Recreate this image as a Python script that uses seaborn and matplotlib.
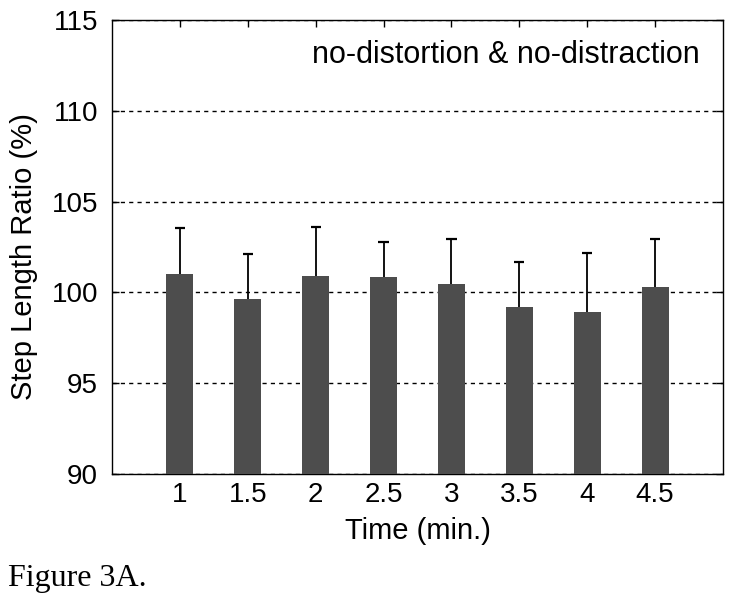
import matplotlib
matplotlib.use("Agg")
import matplotlib.pyplot as plt
import seaborn as sns
import numpy as np
import pandas as pd

# Data
time_labels = ["1", "1.5", "2", "2.5", "3", "3.5", "4", "4.5"]
ratio_mean = [101.0, 99.65, 100.92, 100.83, 100.44, 99.18, 98.94, 100.30]
ratio_sd = [2.53, 2.45, 2.68, 1.96, 2.50, 2.51, 3.23, 2.64]
y_ticks = [90, 95, 100, 105, 110, 115]

sns.set_theme(style="white")
plt.rcParams["font.family"] = ["Liberation Sans", "DejaVu Sans"]

df = pd.DataFrame({"time": time_labels, "ratio": ratio_mean})

fig = plt.figure(figsize=(7.29, 6.11), dpi=100)
ax = fig.add_axes([0.1536, 0.2242, 0.8382, 0.7431])

sns.barplot(data=df, x="time", y="ratio", order=time_labels, color="#4d4d4d",
            saturation=1, width=0.4, ax=ax, errorbar=None, zorder=3,
            edgecolor="none")

x = np.arange(len(time_labels))
means = np.array(ratio_mean)
sds = np.array(ratio_sd)
ax.vlines(x, means, means + sds, colors="black", linewidth=1.3, zorder=4)
ax.hlines(means + sds, x - 0.075, x + 0.075, colors="black", linewidth=1.6, zorder=4)

ax.set_xlim(-1, 8)
ax.set_ylim(90, 115)
ax.set_yticks(y_ticks)
ax.set_xticks(x)
ax.set_xticklabels(time_labels)

ax.yaxis.grid(True, linestyle=(0, (3, 3)), color="black", linewidth=1.0, zorder=1)
ax.set_axisbelow(True)

for s in ax.spines.values():
    s.set_visible(True)
    s.set_color("black")
    s.set_linewidth(1.0)

ax.tick_params(axis="both", which="both", direction="in", length=5, width=1,
               color="black", labelsize=20, labelcolor="black",
               top=True, right=True, bottom=True, left=True)
ax.tick_params(axis="y", pad=10)
ax.tick_params(axis="x", pad=6)

ax.set_xlabel("Time (min.)", fontsize=21, color="black", labelpad=6)
ax.set_ylabel("Step Length Ratio (%)", fontsize=21, color="black")
ax.yaxis.set_label_coords(-0.121, 0.48)

ax.text(0.962, 0.923, "no-distortion & no-distraction", transform=ax.transAxes,
        ha="right", va="center", fontsize=22, color="black")

fig.text(0.011, 0.054, "Figure 3A.", fontsize=23, color="black",
         family=["Liberation Serif", "DejaVu Serif"], ha="left", va="center")

fig.savefig("out.png", dpi=100, facecolor="white")
